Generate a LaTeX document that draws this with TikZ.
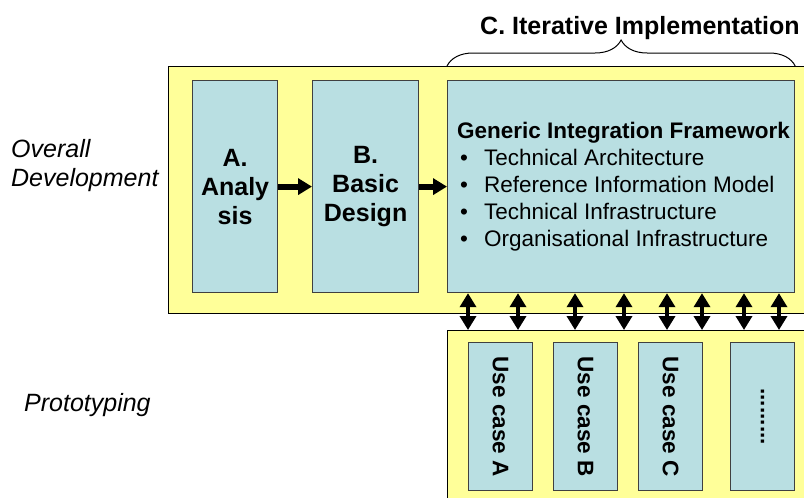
\documentclass[tikz,border=0pt]{standalone}
\usepackage{fontspec}
\setmainfont{Liberation Sans}
\usetikzlibrary{arrows.meta,decorations.pathreplacing}
\definecolor{laneyellow}{RGB}{255,255,153}
\definecolor{phaseblue}{RGB}{185,223,226}
\tikzset{
  lane/.style={draw=black,line width=1pt,fill=laneyellow,anchor=north west,inner sep=0pt},
  phase/.style={draw=black!75,line width=1.2pt,fill=phaseblue,anchor=north west,inner sep=0pt,minimum height=212pt},
  usecase/.style={draw=black!75,line width=1.2pt,fill=phaseblue,anchor=north west,inner sep=0pt,minimum width=64pt,minimum height=148pt},
  uctext/.style={rotate=-90,font=\bfseries\midfont},
  flow/.style={-{Triangle[width=16pt,length=14pt]},line width=6pt},
  link/.style={{Triangle[width=16pt,length=14pt]}-{Triangle[width=16pt,length=14pt]},line width=4pt},
}
\newcommand{\bigbf}{\bfseries\fontsize{25}{29}\selectfont}
\newcommand{\midfont}{\fontsize{22.5}{27}\selectfont}
\begin{document}
\begin{tikzpicture}[x=1pt,y=-1pt]
  \useasboundingbox (0,0) rectangle (804,498);
  \clip (0,0) rectangle (804,498);
  % swim lanes
  \node [lane,minimum width=680pt,minimum height=247pt] (devlane) at (168,66) {};
  \node [lane,minimum width=400pt,minimum height=200pt] (protolane) at (447,330) {};
  \node [anchor=west,inner sep=0pt,align=left,font=\itshape\fontsize{25}{29}\selectfont] (devlabel) at (11,166) {Overall\\Development};
  \node [anchor=west,inner sep=0pt,font=\itshape\fontsize{25}{29}\selectfont] (protolabel) at (24,405) {Prototyping};
  % phases
  \node [phase,minimum width=85pt] (ana) at (192,80) {};
  \node [align=center,font=\bigbf] at (ana.center) {A.\\Analy\\sis};
  \node [phase,minimum width=106pt] (des) at (312,80) {};
  \node [align=center,font=\bigbf] at (des.center) {B.\\Basic\\Design};
  \node [phase,minimum width=347pt] (gif) at (447,80) {};
  \node [anchor=west,inner sep=0pt,align=left,font=\midfont] (giftext) at (457,187)
    {\textbf{Generic Integration Framework}\\
     \hspace*{3pt}\makebox[24pt][l]{\textbullet}Technical Architecture\\
     \hspace*{3pt}\makebox[24pt][l]{\textbullet}Reference Information Model\\
     \hspace*{3pt}\makebox[24pt][l]{\textbullet}Technical Infrastructure\\
     \hspace*{3pt}\makebox[24pt][l]{\textbullet}Organisational Infrastructure};
  \draw [flow] (ana) -- (des);
  \draw [flow] (des) -- (gif.west |- des.east);
  % iterative implementation
  \draw [decorate,decoration={brace,amplitude=26pt},line width=1pt] (gif.north west |- devlane.north) -- (gif.north east |- devlane.north);
  \node [font=\bigbf] (iter) at (640,28) {C. Iterative Implementation};
  % use cases
  \node [usecase] (uca) at (468,342) {};
  \node [usecase] (ucb) at (553,342) {};
  \node [usecase] (ucc) at (638,342) {};
  \node [usecase] (ucd) at (730,342) {};
  \foreach \uc/\txt in {uca/A,ucb/B,ucc/C}
    \node [uctext] at (\uc.center) {Use case \txt};
  \node [uctext] at (ucd.center) {.........};
  \foreach \x in {468,518,575,624,667,702,744,779}
    \draw [link] (gif.south -| \x,0) -- (protolane.north -| \x,0);
\end{tikzpicture}
\end{document}
